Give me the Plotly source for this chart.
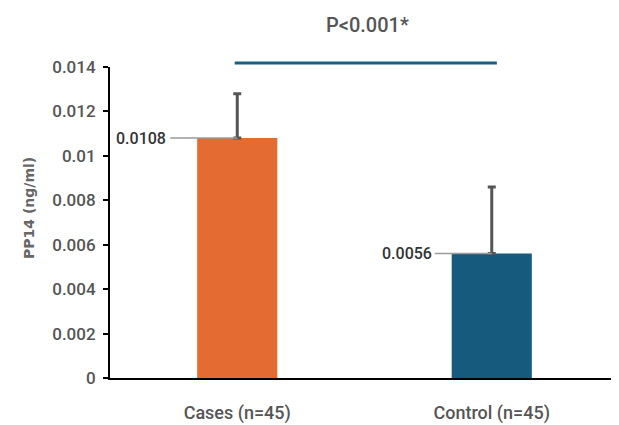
import plotly.graph_objects as go

categories = ["Cases (n=45)", "Control (n=45)"]
means = [0.0108, 0.0056]
sd_plus = [0.0020, 0.0030]
mean_labels = ["0.0108", "0.0056"]
bar_colors = ["#E46C32", "#165A7D"]
y_ticks = [0, 0.002, 0.004, 0.006, 0.008, 0.01, 0.012, 0.014]
y_tick_text = ["0", "0.002", "0.004", "0.006", "0.008", "0.01", "0.012", "0.014"]
p_text = "P<0.001*"
y_title = "PP14 (ng/ml)"

NARROW = "Roboto, sans-serif"
GRAY = "#555555"

fig = go.Figure()
fig.add_trace(go.Bar(
    x=categories, y=means, width=0.315,
    marker=dict(color=bar_colors, line=dict(width=0)),
    error_y=dict(type="data", symmetric=False, array=sd_plus,
                 arrayminus=[0] * len(means), color="#555555",
                 thickness=3, width=4),
    showlegend=False, hoverinfo="skip",
))

leader_len = [-69, -58]
leader_gap = [2, 1]
for cat, val, lab, ax, gap in zip(categories, means, mean_labels, leader_len, leader_gap):
    fig.add_annotation(
        x=cat, y=val, xref="x", yref="y", text=lab, showarrow=True,
        arrowhead=0, arrowwidth=1.5, arrowcolor="#9a9a9a",
        ax=ax, ay=0, xanchor="right", yanchor="middle", standoff=0,
        startstandoff=gap,
        font=dict(family=NARROW, size=16, color="#333333", weight=500),
    )

fig.add_annotation(
    x=0.505, y=1.135, xref="paper", yref="paper", text=p_text,
    showarrow=False, xanchor="center", yanchor="middle",
    font=dict(family=NARROW, size=20, color=GRAY, weight=500),
)
fig.add_shape(type="line", xref="x", yref="paper",
              x0=-0.01, x1=1.02, y0=1.013, y1=1.013,
              line=dict(color="#1A5E86", width=3))

fig.add_annotation(
    x=-0.159, y=0.547, xref="paper", yref="paper", text="<b>" + y_title + "</b>",
    showarrow=False, textangle=-90, xanchor="center", yanchor="middle",
    font=dict(family="DejaVu Sans, sans-serif", size=14, color="#666666"),
)

# page body has an 8px margin, so the figure is sized to fit the window
fig.update_layout(
    width=611, height=417,
    margin=dict(l=102, r=0, t=59, b=47, autoexpand=False),
    paper_bgcolor="white", plot_bgcolor="white",
    bargap=0.4,
)
fig.update_xaxes(
    type="category", range=[-0.5, 1.5], showline=True, linecolor="black",
    linewidth=2, ticks="", showgrid=False, zeroline=False, automargin=False,
    tickfont=dict(family=NARROW, size=18, color=GRAY, weight=500),
    ticklabelstandoff=17,
)
fig.update_yaxes(
    range=[0, 0.014], tickvals=y_ticks, ticktext=y_tick_text,
    showline=True, linecolor="black", linewidth=2, ticks="outside",
    ticklen=5, tickwidth=2, tickcolor="black", showgrid=False, zeroline=False,
    automargin=False,
    tickfont=dict(family=NARROW, size=17, color=GRAY, weight=500),
    ticklabelstandoff=4,
)

fig.write_html("out.html")
